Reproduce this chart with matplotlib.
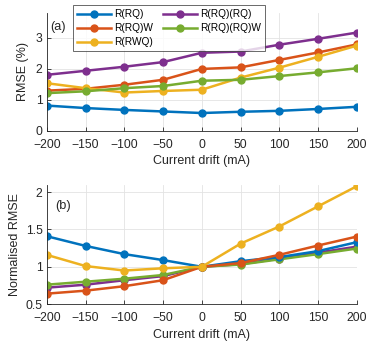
import numpy as np
import matplotlib.pyplot as plt

plt.rcParams['font.family'] = ['Liberation Sans', 'DejaVu Sans']

# current drift (mA)
drift = [-200, -150, -100, -50, 0, 50, 100, 150, 200]

# (a) RMSE in %
rmse_rq = [0.81, 0.73, 0.67, 0.62, 0.57, 0.61, 0.64, 0.70, 0.77]
rmse_rqw = [1.29, 1.35, 1.48, 1.64, 1.99, 2.04, 2.28, 2.52, 2.78]
rmse_rwq = [1.53, 1.37, 1.23, 1.28, 1.32, 1.71, 2.03, 2.38, 2.74]
rmse_rqrq = [1.80, 1.93, 2.06, 2.21, 2.51, 2.55, 2.77, 2.96, 3.16]
rmse_rqrqw = [1.21, 1.27, 1.37, 1.44, 1.61, 1.64, 1.76, 1.88, 2.01]

# (b) RMSE normalised to the zero-drift value
norm_rq = [1.41, 1.28, 1.17, 1.09, 1.00, 1.075, 1.13, 1.21, 1.33]
norm_rqw = [0.64, 0.68, 0.74, 0.82, 1.00, 1.05, 1.16, 1.285, 1.405]
norm_rwq = [1.16, 1.01, 0.95, 0.98, 1.00, 1.31, 1.54, 1.81, 2.08]
norm_rqrq = [0.72, 0.76, 0.82, 0.875, 1.00, 1.035, 1.11, 1.19, 1.27]
norm_rqrqw = [0.76, 0.80, 0.84, 0.89, 1.00, 1.03, 1.10, 1.17, 1.245]

labels = ['R(RQ)', 'R(RQ)W', 'R(RWQ)', 'R(RQ)(RQ)', 'R(RQ)(RQ)W']
colors = ['#0072BD', '#D95319', '#EDB120', '#7E2F8E', '#77AC30']

top_series = [rmse_rq, rmse_rqw, rmse_rwq, rmse_rqrq, rmse_rqrqw]
bot_series = [norm_rq, norm_rqw, norm_rwq, norm_rqrq, norm_rqrqw]

fig = plt.figure(figsize=(3.74, 3.44), dpi=100)
ax1 = fig.add_axes([0.125, 0.620, 0.829, 0.343])
ax2 = fig.add_axes([0.125, 0.116, 0.829, 0.347])

fs = 8.7
handles = []
for vals, lab, c in zip(top_series, labels, colors):
    h, = ax1.plot(drift, vals, '-o', color=c, lw=1.8, ms=5, label=lab)
    handles.append(h)

# draw order in (b): purple under green, blue/orange on top
order = [3, 4, 0, 1, 2]
for i in order:
    ax2.plot(drift, bot_series[i], '-o', color=colors[i], lw=1.8, ms=5)

for ax in (ax1, ax2):
    ax.set_xlim(-200, 200)
    ax.set_xticks(drift)
    ax.grid(True, color='#e3e3e3', lw=0.6)
    ax.set_axisbelow(True)
    ax.spines['top'].set_visible(False)
    ax.spines['right'].set_visible(False)
    for s in ('left', 'bottom'):
        ax.spines[s].set_color('#262626')
        ax.spines[s].set_linewidth(0.6)
    ax.tick_params(direction='in', length=3, width=0.6, colors='#262626',
                   labelsize=fs)
    ax.tick_params(axis='x', pad=6)
    ax.tick_params(axis='y', pad=3)
    ax.set_xlabel('Current drift (mA)', fontsize=fs + 0.3, color='#262626', labelpad=3)

ax1.set_ylim(0, 3.8)
ax1.set_yticks([0, 1, 2, 3])
ax1.set_ylabel('RMSE (%)', fontsize=fs + 0.3, color='#262626', labelpad=5)
ax1.text(-195, 3.35, '(a)', fontsize=fs + 0.5, va='center', color='#262626')

ax2.set_ylim(0.5, 2.1)
ax2.set_yticks([0.5, 1, 1.5, 2])
ax2.set_yticklabels(['0.5', '1', '1.5', '2'])
ax2.set_ylabel('Normalised RMSE', fontsize=fs + 0.3, color='#262626', labelpad=3)
ax2.text(-189, 1.82, '(b)', fontsize=fs + 0.5, va='center', color='#262626')

leg = fig.legend(handles=handles, labels=labels, ncol=2, loc='upper left',
                 bbox_to_anchor=(0.196, 0.985), fontsize=7.3,
                 frameon=True, fancybox=False, handlelength=3.3,
                 handletextpad=0.33, columnspacing=1.0, labelspacing=0.4,
                 borderpad=0.4, borderaxespad=0)
leg.get_frame().set_edgecolor('#262626')
leg.get_frame().set_linewidth(0.6)

fig.savefig('out.png', dpi=100)
